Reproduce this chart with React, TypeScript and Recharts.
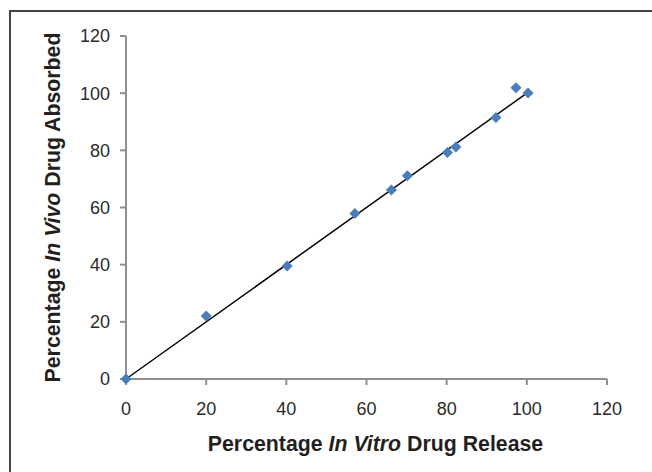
import React from "react";
import { ScatterChart, Scatter, XAxis, YAxis, Label } from "recharts";

// percentage in vitro release vs in vivo absorption
const inVitro = [0, 20, 40.2, 57.1, 66.2, 70.2, 80.2, 82.3, 92.3, 97.3, 100.3];
const inVivo = [0, 22, 39.5, 57.9, 66.1, 71.1, 79.2, 81.2, 91.5, 101.9, 100.1];

// straight correlation line
const trendX = [0, 100];
const trendY = [0, 100];

const axisTicks = [0, 20, 40, 60, 80, 100, 120];

const points = inVitro.map((x, i) => ({ x, y: inVivo[i] }));
const trend = trendX.map((x, i) => ({ x, y: trendY[i] }));

const FONT = "'Liberation Sans', Arial, Helvetica, sans-serif";
const AXIS = "#8f8f8f";
const TICK_SIZE = 18;

function Diamond(props: any) {
  const { cx, cy } = props;
  const r = 5.5;
  return (
    <path
      d={`M${cx},${cy - r}L${cx + r},${cy}L${cx},${cy + r}L${cx - r},${cy}Z`}
      fill="#4a7ebb"
    />
  );
}

function XTick(props: any) {
  const { x, y, payload } = props;
  return (
    <text
      x={x}
      y={y}
      dy="0.71em"
      textAnchor="middle"
      fontFamily={FONT}
      fontSize={TICK_SIZE}
      fill="#2b2b2b"
    >
      {payload.value}
    </text>
  );
}

function YTick(props: any) {
  const { x, y, payload } = props;
  return (
    <text
      x={x}
      y={y}
      dy="0.355em"
      textAnchor="end"
      fontFamily={FONT}
      fontSize={TICK_SIZE}
      fill="#2b2b2b"
    >
      {payload.value}
    </text>
  );
}

function XTitle(props: any) {
  const { x, y, width } = props.viewBox;
  return (
    <text
      x={x + width / 2 + 9}
      y={y + 72}
      textAnchor="middle"
      fontFamily={FONT}
      fontSize={21.3}
      fontWeight="bold"
      fill="#231f20"
    >
      Percentage <tspan fontStyle="italic">In Vitro</tspan> Drug Release
    </text>
  );
}

function YTitle(props: any) {
  const { y, height } = props.viewBox;
  const cx = 60;
  const cy = y + height / 2;
  return (
    <text
      x={cx}
      y={cy}
      transform={`rotate(-90, ${cx}, ${cy})`}
      textAnchor="middle"
      fontFamily={FONT}
      fontSize={21.3}
      fontWeight="bold"
      fill="#231f20"
    >
      Percentage <tspan fontStyle="italic">In Vivo</tspan> Drug Absorbed
    </text>
  );
}

export default function App() {
  return (
    <div
      style={{
        position: "absolute",
        left: 0,
        top: 0,
        width: 652,
        height: 472,
        background: "#fff",
      }}
    >
      <div
        style={{
          position: "absolute",
          left: 9,
          top: 10,
          width: 643,
          height: 462,
          boxSizing: "border-box",
          borderLeft: "2px solid #444",
          borderTop: "2px solid #444",
        }}
      />
      <ScatterChart
        width={652}
        height={472}
        margin={{ top: 36, right: 45, left: 0, bottom: 0 }}
        style={{ position: "absolute", left: 0, top: 0 }}
      >
        <XAxis
          type="number"
          dataKey="x"
          domain={[0, 120]}
          ticks={axisTicks}
          height={93}
          tickSize={6}
          tickMargin={17}
          stroke={AXIS}
          strokeWidth={2}
          tick={XTick}
        >
          <Label content={XTitle} />
        </XAxis>
        <YAxis
          type="number"
          dataKey="y"
          domain={[0, 120]}
          ticks={axisTicks}
          width={126}
          tickSize={6}
          tickMargin={10}
          stroke={AXIS}
          strokeWidth={2}
          tick={YTick}
        >
          <Label content={YTitle} />
        </YAxis>
        <Scatter
          data={trend}
          line={{ stroke: "#000", strokeWidth: 1.5 }}
          shape={() => <g />}
          isAnimationActive={false}
        />
        <Scatter data={points} shape={Diamond} isAnimationActive={false} />
      </ScatterChart>
    </div>
  );
}
